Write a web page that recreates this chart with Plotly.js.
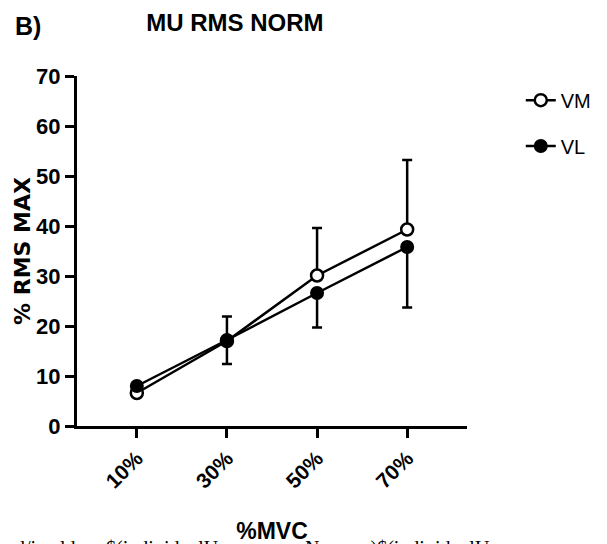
<!DOCTYPE html>
<html>
<head>
<meta charset="utf-8">
<script src="https://cdn.plot.ly/plotly-3.0.1.min.js"></script>
<style>html,body{margin:0;padding:0;background:#fff;}#chart{width:607px;height:544px;}</style>
</head>
<body>
<div id="chart"></div>
<script>
// ---- data ----
const categories = ['10%', '30%', '50%', '70%'];
const vmMean = [6.6, 17.0, 30.1, 39.3];
const vmErrUp = [0.5, 4.9, 9.5, 13.9];
const vlMean = [8.0, 17.2, 26.6, 35.8];
const vlErrDown = [0.5, 4.8, 6.9, 12.1];
const yTicks = [0, 10, 20, 30, 40, 50, 60, 70];
const zeros = [0, 0, 0, 0];

const NARROW = '"Liberation Sans Narrow", "Arial Narrow", "Liberation Sans", Arial, sans-serif';
const SANS = '"Liberation Sans", Arial, sans-serif';

const vm = {
  x: categories, y: vmMean, name: 'VM', type: 'scatter', mode: 'lines+markers',
  legend: 'legend',
  line: {color: '#000', width: 2.5},
  marker: {symbol: 'circle', size: 12, color: '#fff', line: {color: '#000', width: 2.5}},
  error_y: {type: 'data', symmetric: false, array: vmErrUp, arrayminus: zeros,
            color: '#000', thickness: 2.5, width: 5}
};
const vl = {
  x: categories, y: vlMean, name: 'VL', type: 'scatter', mode: 'lines+markers',
  legend: 'legend2',
  line: {color: '#000', width: 2.5},
  marker: {symbol: 'circle', size: 12, color: '#000', line: {color: '#000', width: 2}},
  error_y: {type: 'data', symmetric: false, array: zeros, arrayminus: vlErrDown,
            color: '#000', thickness: 2.5, width: 5}
};

const layout = {
  width: 607, height: 544,
  margin: {l: 77, r: 139, t: 76, b: 118, pad: 0},
  paper_bgcolor: '#fff', plot_bgcolor: '#fff',
  showlegend: true,
  title: {text: 'MU RMS NORM', font: {family: NARROW, size: 24, color: '#000', weight: 'bold'},
          xref: 'container', x: 0.387, xanchor: 'center', yref: 'container', y: 0.958, yanchor: 'middle'},
  xaxis: {
    type: 'category', range: [-0.664, 3.664],
    showline: true, linecolor: '#000', linewidth: 3,
    ticks: 'outside', ticklen: 9, tickwidth: 3, tickcolor: '#000',
    tickangle: -45, tickfont: {family: NARROW, size: 21, color: '#000', weight: 'bold'},
    showgrid: false, zeroline: false,
    title: {text: '%MVC', font: {family: NARROW, size: 23, color: '#000', weight: 'bold'}, standoff: 32}
  },
  yaxis: {
    range: [0, 70], tickvals: yTicks, ticktext: yTicks.map(String),
    showline: true, linecolor: '#000', linewidth: 3,
    ticks: 'outside', ticklen: 9, tickwidth: 3, tickcolor: '#000',
    tickfont: {family: NARROW, size: 22, color: '#000', weight: 'bold'},
    showgrid: false, zeroline: false,
    title: {text: '% RMS MAX', font: {family: '"DejaVu Sans", sans-serif', size: 22, color: '#000', weight: 'bold'}, standoff: 0}
  },
  legend: {x: 1.135, xanchor: 'left', y: 0.931, yanchor: 'middle', bgcolor: 'rgba(0,0,0,0)',
           font: {family: SANS, size: 20, color: '#000'}, itemwidth: 30},
  legend2: {x: 1.135, xanchor: 'left', y: 0.80, yanchor: 'middle', bgcolor: 'rgba(0,0,0,0)',
           font: {family: SANS, size: 20, color: '#000'}, itemwidth: 30},
  annotations: [
    {text: 'B)', xref: 'paper', yref: 'paper', x: -0.164, y: 1.143, xanchor: 'left', yanchor: 'middle',
     showarrow: false, font: {family: NARROW, size: 25, color: '#000', weight: 'bold'}},
    {text: 'd/ine ld:no $(individualUnsmeanvarNameus)$(individualUnsmeanvar', xref: 'paper', yref: 'paper',
     x: -0.163, y: -0.31, xanchor: 'left', yanchor: 'top', showarrow: false,
     font: {family: '"Liberation Serif", "Times New Roman", serif', size: 20, color: '#000'}}
  ]
};

Plotly.newPlot('chart', [vm, vl], layout, {displayModeBar: false, staticPlot: true});
</script>
</body>
</html>
